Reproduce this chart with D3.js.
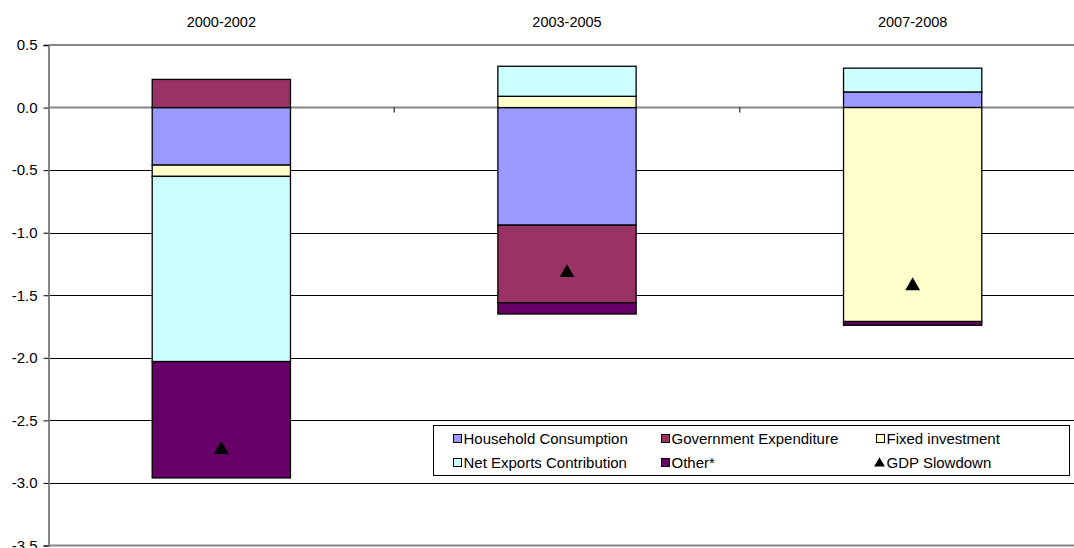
<!DOCTYPE html>
<html>
<head>
<meta charset="utf-8">
<script src="https://cdn.jsdelivr.net/npm/d3@7"></script>
<style>
  html, body { margin: 0; padding: 0; background: #fff; }
  svg { display: block; font-family: "Liberation Sans", Arial, sans-serif; }
</style>
</head>
<body>
<svg id="chart" width="1074" height="548"></svg>
<script>
// Contributions to the GDP slowdown, percentage points
const periods = ["2000-2002", "2003-2005", "2007-2008"];
const householdConsumption = [-0.46, -0.94, 0.125];
const governmentExpenditure = [0.225, -0.62, 0];
const fixedInvestment = [-0.09, 0.09, -1.71];
const netExportsContribution = [-1.48, 0.24, 0.19];
const otherComponents = [-0.93, -0.09, -0.03];
const gdpSlowdown = [-2.735, -1.32, -1.425];
const yTicks = [0.5, 0.0, -0.5, -1.0, -1.5, -2.0, -2.5, -3.0, -3.5];

const seriesNames = ["Household Consumption", "Government Expenditure", "Fixed investment",
                     "Net Exports Contribution", "Other*"];
const seriesColors = ["#9999FF", "#993366", "#FFFFCC", "#CCFFFF", "#660066"];
const seriesValues = [householdConsumption, governmentExpenditure, fixedInvestment,
                      netExportsContribution, otherComponents];

const rows = periods.map((p, i) => {
  const r = { period: p };
  seriesNames.forEach((n, k) => { r[n] = seriesValues[k][i]; });
  return r;
});

const svg = d3.select("#chart");

const x = d3.scaleBand().domain(periods).range([48.5, 1085.5]).padding(0);
const y = d3.scaleLinear().domain([-3.5, 0.5]).range([545.5, 45]);

// horizontal gridlines
svg.append("g").selectAll("line")
  .data(yTicks.filter(t => t !== 0.5 && t !== 0 && t !== -3.5))
  .join("line")
  .attr("x1", 48.5).attr("x2", 1085)
  .attr("y1", d => Math.round(y(d)) + 0.5).attr("y2", d => Math.round(y(d)) + 0.5)
  .attr("stroke", "#000").attr("stroke-width", 1);

// plot frame top and bottom
[0.5, -3.5].forEach(v => {
  svg.append("line")
    .attr("x1", 48.5).attr("x2", 1085)
    .attr("y1", y(v)).attr("y2", y(v))
    .attr("stroke", "#868686").attr("stroke-width", 2);
});

// category axis along zero
const xAxisG = svg.append("g").attr("transform", `translate(0,${y(0)})`);
xAxisG.append("line").attr("x1", 48.5).attr("x2", 1085)
  .attr("stroke", "#868686").attr("stroke-width", 2);
xAxisG.selectAll("line.tick")
  .data(periods.slice(1))
  .join("line").attr("class", "tick")
  .attr("x1", d => x(d)).attr("x2", d => x(d))
  .attr("y1", 0).attr("y2", 5)
  .attr("stroke", "#000").attr("stroke-width", 1);

// category labels above the plot
svg.append("g").selectAll("text")
  .data(periods)
  .join("text")
  .attr("x", d => x(d) + x.bandwidth() / 2)
  .attr("y", 27)
  .attr("text-anchor", "middle")
  .attr("font-size", 14.5)
  .attr("fill", "#000")
  .text(d => d);

// value axis
const yAxis = d3.axisLeft(y).tickValues(yTicks).tickFormat(d3.format(".1f")).tickSize(5).tickPadding(6);
const yAxisG = svg.append("g").attr("transform", "translate(48.5,0)").call(yAxis);
yAxisG.select(".domain").attr("stroke", "#868686").attr("stroke-width", 2);
yAxisG.selectAll(".tick line").attr("stroke", "#000");
yAxisG.selectAll(".tick text")
  .attr("font-size", 15).attr("fill", "#000")
  .attr("font-family", "'Liberation Sans', Arial, sans-serif")
  .text(d => d3.format(".1f")(d).replace("−", "-"));

// stacked bars
const stack = d3.stack().keys(seriesNames).offset(d3.stackOffsetDiverging);
const layers = stack(rows);
const barW = x.bandwidth() * 0.4;

svg.append("g").selectAll("g")
  .data(layers)
  .join("g")
  .attr("fill", (d, i) => seriesColors[i])
  .selectAll("rect")
  .data(d => d.filter(s => Math.abs(s[1] - s[0]) > 1e-9))
  .join("rect")
  .attr("x", d => x(d.data.period) + (x.bandwidth() - barW) / 2)
  .attr("width", barW)
  .attr("y", d => y(Math.max(d[0], d[1])))
  .attr("height", d => Math.abs(y(d[0]) - y(d[1])))
  .attr("stroke", "#000")
  .attr("stroke-width", 1.3);

// GDP slowdown markers
const tri = d3.symbol(d3.symbolTriangle, 95);
svg.append("g").selectAll("path")
  .data(gdpSlowdown)
  .join("path")
  .attr("d", tri)
  .attr("transform", (d, i) => `translate(${x(periods[i]) + x.bandwidth() / 2},${y(d)})`)
  .attr("fill", "#000");

// legend
const lg = svg.append("g").attr("transform", "translate(433.5,425.5)");
lg.append("rect").attr("width", 636).attr("height", 50)
  .attr("fill", "#fff").attr("stroke", "#000").attr("stroke-width", 1);
const legendItems = seriesNames.map((n, i) => ({ name: n, color: seriesColors[i], type: "rect" }))
  .concat([{ name: "GDP Slowdown", type: "tri" }]);
const colX = [20, 228, 443];
const rowY = [13, 37];
legendItems.forEach((it, i) => {
  const cx = colX[i % 3], cy = rowY[Math.floor(i / 3)];
  const g = lg.append("g").attr("transform", `translate(${cx},${cy})`);
  if (it.type === "rect") {
    g.append("rect").attr("x", 0).attr("y", -4).attr("width", 8).attr("height", 8)
      .attr("fill", it.color).attr("stroke", "#000").attr("stroke-width", 1);
  } else {
    g.append("path").attr("d", d3.symbol(d3.symbolTriangle, 50)).attr("transform", "translate(3,1)").attr("fill", "#000");
  }
  g.append("text").attr("x", 10).attr("y", 0).attr("dy", "0.35em")
    .attr("font-size", 15).attr("fill", "#000").text(it.name);
});
</script>
</body>
</html>
